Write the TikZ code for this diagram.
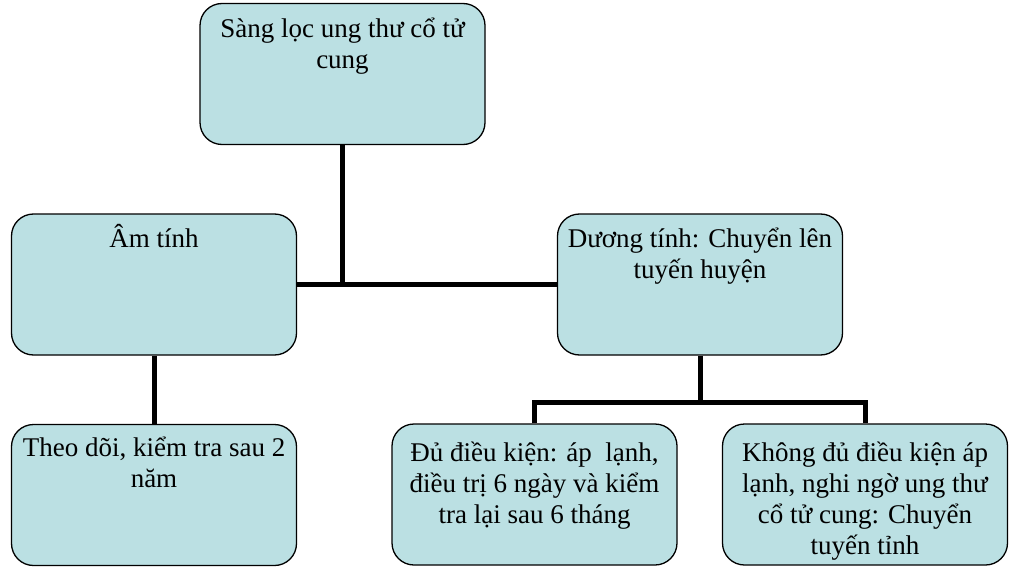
\documentclass[tikz,border=0pt]{standalone}
\usepackage{fontspec}
\setmainfont{Liberation Serif}
\usetikzlibrary{positioning,calc}
\definecolor{cardfill}{RGB}{187,224,227}
\tikzset{
  card/.style={draw,fill=cardfill,line width=1.3pt,rounded corners=22pt,minimum width=285pt,minimum height=141pt,inner sep=0pt},
  txt/.style={align=center,font=\fontsize{27}{31}\selectfont,inner sep=0pt,anchor=north},
  link/.style={line width=5pt}
}
\begin{document}
\begin{tikzpicture}[x=1pt,y=-1pt]
\newcommand{\bx}[4][8pt]{\node[card] (#2) at (#3) {}; \node[txt] (#2t) at ([yshift=-#1]#2.north) {\rule{0pt}{26pt}#4};}
\useasboundingbox (0,0) rectangle (1009,567);
\bx{screen}{342.5,74}{Sàng lọc ung thư cổ tử\\cung}
\bx{neg}{154,284.5}{Âm tính}
\bx{pos}{700,284.5}{Dương tính: Chuyển lên\\tuyến huyện}
\bx[6pt]{follow}{154,495}{Theo dõi, kiểm tra sau 2\\năm}
\bx[12pt]{treat}{534.5,494.5}{Đủ điều kiện: áp\ \ lạnh,\\điều trị 6 ngày và kiểm\\tra lại sau 6 tháng}
\bx[12pt]{refer}{865,494.5}{Không đủ điều kiện áp\\lạnh, nghi ngờ ung thư\\cổ tử cung: Chuyển\\tuyến tỉnh}
\coordinate (fork) at ($(pos.south)+(0,47)$);
\draw[link] (screen.south) -- (screen.south |- neg.east);
\draw[link] (neg.east) -- (pos.west);
\draw[link] (neg.south) -- (follow.north);
\draw[link] (pos.south) -- (fork);
\draw[link] (treat.north) |- (fork) -| (refer.north);
\end{tikzpicture}
\end{document}
